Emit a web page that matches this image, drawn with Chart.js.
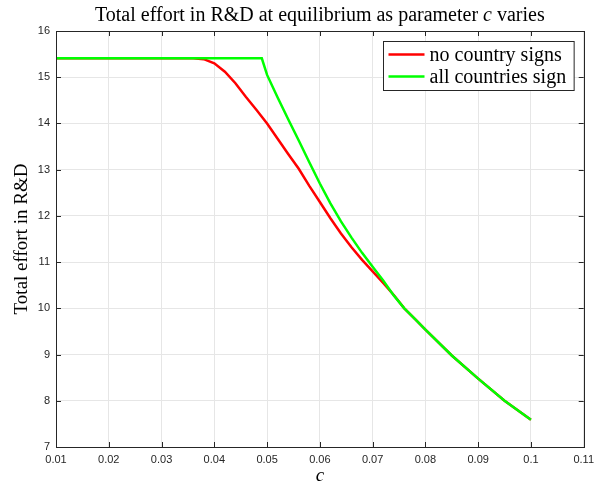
<!DOCTYPE html>
<html>
<head>
<meta charset="utf-8">
<script src="https://cdn.jsdelivr.net/npm/chart.js@4"></script>
<style>
  body { margin: 0; background: #fff; }
  #wrap { width: 600px; height: 485px; }
</style>
</head>
<body>
<div id="wrap"><canvas id="myChart" width="600" height="485"></canvas></div>
<script>
// text
var titleParts = ['Total effort in R&D at equilibrium as parameter ', 'c', ' varies'];
var xLabel = 'c';
var yLabel = 'Total effort in R&D';
var seriesNames = ['no country signs', 'all countries sign'];

// series
var cNone = [0.01, 0.036, 0.038, 0.04, 0.042, 0.044, 0.046, 0.048, 0.05, 0.052, 0.054, 0.056, 0.058, 0.06,
             0.062, 0.064, 0.066, 0.068, 0.07, 0.072, 0.074, 0.076, 0.078, 0.08, 0.085, 0.09, 0.095, 0.1];
var effortNone = [15.41, 15.41, 15.39, 15.3, 15.12, 14.87, 14.57, 14.29, 14.0, 13.67, 13.34, 13.02, 12.65, 12.3,
                  11.95, 11.62, 11.32, 11.05, 10.8, 10.55, 10.29, 10.0, 9.77, 9.54, 8.98, 8.48, 8.0, 7.59];

var cAll = [0.01, 0.049, 0.05, 0.052, 0.054, 0.056, 0.058, 0.06, 0.062, 0.064, 0.066, 0.068, 0.07,
            0.072, 0.074, 0.076, 0.078, 0.08, 0.085, 0.09, 0.095, 0.1];
var effortAll = [15.41, 15.41, 15.05, 14.56, 14.09, 13.63, 13.16, 12.7, 12.27, 11.88, 11.53, 11.2, 10.9,
                 10.6, 10.28, 10.0, 9.77, 9.54, 8.98, 8.48, 8.0, 7.59];

// ticks
var xTicks = [0.01, 0.02, 0.03, 0.04, 0.05, 0.06, 0.07, 0.08, 0.09, 0.1, 0.11];
var xTickLabels = ['0.01', '0.02', '0.03', '0.04', '0.05', '0.06', '0.07', '0.08', '0.09', '0.1', '0.11'];
var yTicks = [7, 8, 9, 10, 11, 12, 13, 14, 15, 16];

var serif = '"Liberation Serif", "DejaVu Serif", serif';
var sans = '"Liberation Sans", Arial, sans-serif';
var axisColor = '#262626';

function pairs(xs, ys) {
    return xs.map(function(x, i) { return {x: x, y: ys[i]}; });
}

// box round the axes with the ticks pointing inward, like matlab
var boxPlugin = {
    id: 'box',
    afterDatasetsDraw: function(chart) {
        var ctx = chart.ctx, a = chart.chartArea;
        var xs = chart.scales.x, ys = chart.scales.y;
        var len = 5;
        ctx.save();
        ctx.strokeStyle = axisColor;
        ctx.lineWidth = 1;
        ctx.beginPath();
        xTicks.forEach(function(v) {
            var px = Math.round(xs.getPixelForValue(v)) + 0.5;
            ctx.moveTo(px, a.bottom); ctx.lineTo(px, a.bottom - len);
            ctx.moveTo(px, a.top); ctx.lineTo(px, a.top + len);
        });
        yTicks.forEach(function(v) {
            var py = Math.round(ys.getPixelForValue(v)) + 0.5;
            ctx.moveTo(a.left, py); ctx.lineTo(a.left + len, py);
            ctx.moveTo(a.right, py); ctx.lineTo(a.right - len, py);
        });
        ctx.stroke();
        ctx.strokeRect(Math.round(a.left) + 0.5, Math.round(a.top) + 0.5,
                       Math.round(a.right - a.left), Math.round(a.bottom - a.top));
        ctx.restore();
    }
};

// title with the italic c
var titlePlugin = {
    id: 'mixedTitle',
    afterDraw: function(chart) {
        var ctx = chart.ctx, a = chart.chartArea;
        var size = 20;
        var fonts = [size + 'px ' + serif, 'italic ' + size + 'px ' + serif, size + 'px ' + serif];
        ctx.save();
        var widths = titleParts.map(function(t, i) { ctx.font = fonts[i]; return ctx.measureText(t).width; });
        var total = widths.reduce(function(s, w) { return s + w; }, 0);
        var x = (a.left + a.right) / 2 - total / 2;
        ctx.fillStyle = '#000';
        ctx.textBaseline = 'middle';
        titleParts.forEach(function(t, i) {
            ctx.font = fonts[i];
            ctx.fillText(t, x, 16);
            x += widths[i];
        });
        ctx.restore();
    }
};

// legend box in the upper right corner
var legendPlugin = {
    id: 'boxLegend',
    afterDraw: function(chart) {
        var ctx = chart.ctx, a = chart.chartArea;
        var ds = chart.data.datasets;
        ctx.save();
        ctx.font = '20px ' + serif;
        var w = 0;
        ds.forEach(function(d) { w = Math.max(w, ctx.measureText(d.label).width); });
        var boxW = 46 + w + 8, boxH = 49;
        var bx = Math.round(a.right - 10 - boxW) + 0.5, by = Math.round(a.top + 10) + 0.5;
        ctx.fillStyle = '#fff';
        ctx.fillRect(bx, by, boxW, boxH);
        ctx.strokeStyle = axisColor;
        ctx.lineWidth = 1;
        ctx.strokeRect(bx, by, boxW, boxH);
        ds.forEach(function(d, i) {
            var y = by + 13 + i * 22;
            ctx.strokeStyle = d.borderColor;
            ctx.lineWidth = 2.5;
            ctx.beginPath();
            ctx.moveTo(bx + 5, y);
            ctx.lineTo(bx + 41, y);
            ctx.stroke();
            ctx.fillStyle = '#000';
            ctx.textBaseline = 'middle';
            ctx.fillText(d.label, bx + 46, y + 1);
        });
        ctx.restore();
    }
};

document.addEventListener("DOMContentLoaded", () => {
    var ctx = document.getElementById('myChart').getContext('2d');
    var chart = new Chart(ctx, {
        type: 'line',
        data: {
            datasets: [{
                label: seriesNames[0],
                borderColor: 'rgb(255, 0, 0)',
                backgroundColor: 'rgb(255, 0, 0)',
                data: pairs(cNone, effortNone),
                borderWidth: 2.5,
                pointRadius: 0,
                tension: 0,
                order: 1,
                fill: false
            }, {
                label: seriesNames[1],
                borderColor: 'rgb(0, 255, 0)',
                backgroundColor: 'rgb(0, 255, 0)',
                data: pairs(cAll, effortAll),
                borderWidth: 2.5,
                pointRadius: 0,
                tension: 0,
                order: 0,
                fill: false
            }]
        },
        options: {
            responsive: false,
            animation: false,
            layout: { padding: { top: 31, right: 13, left: 0, bottom: 0 } },
            plugins: {
                legend: { display: false },
                title: { display: false },
                tooltip: { enabled: false }
            },
            scales: {
                x: {
                    type: 'linear',
                    min: 0.01,
                    max: 0.11,
                    afterBuildTicks: function(s) { s.ticks = xTicks.map(function(v) { return {value: v}; }); },
                    afterFit: function(s) { s.height = 38; },
                    ticks: {
                        color: axisColor,
                        font: { family: sans, size: 11 },
                        padding: 6,
                        maxRotation: 0,
                        autoSkip: false,
                        callback: function(v, i) { return xTickLabels[i]; }
                    },
                    grid: { color: '#e6e6e6', drawTicks: false },
                    border: { display: false },
                    title: {
                        display: true,
                        text: xLabel,
                        color: '#000',
                        font: { family: serif, size: 19, style: 'italic', lineHeight: 1 },
                        padding: { top: 0, bottom: 0 }
                    }
                },
                y: {
                    min: 7,
                    max: 16,
                    afterBuildTicks: function(s) { s.ticks = yTicks.map(function(v) { return {value: v}; }); },
                    afterFit: function(s) { s.width = 56; },
                    ticks: {
                        color: axisColor,
                        font: { family: sans, size: 11 },
                        padding: 6,
                        autoSkip: false
                    },
                    grid: { color: '#e6e6e6', drawTicks: false },
                    border: { display: false },
                    title: {
                        display: true,
                        text: yLabel,
                        color: '#000',
                        font: { family: serif, size: 19, lineHeight: 1 },
                        padding: { top: 13, bottom: 0 }
                    }
                }
            }
        },
        plugins: [boxPlugin, titlePlugin, legendPlugin]
    });
});
</script>
</body>
</html>
